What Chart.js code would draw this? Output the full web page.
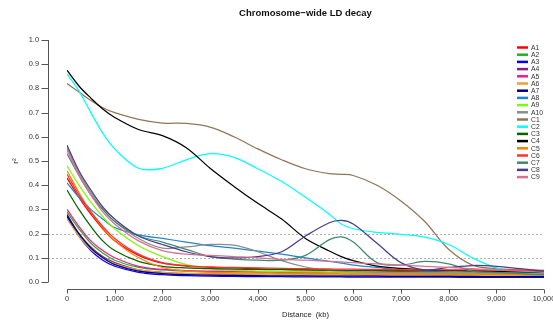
<!DOCTYPE html>
<html>
<head>
<meta charset="utf-8">
<script src="https://cdn.jsdelivr.net/npm/chart.js@4"></script>
<style>
  html, body { margin: 0; padding: 0; background: #fff; }
</style>
</head>
<body>
<canvas id="ldDecay" width="553" height="327"></canvas>
<script>
// distance in kb, shared by every chromosome
var distances = [0, 250, 500, 750, 1000, 1500, 2000, 2500, 3000, 3500, 4000, 4500, 5000, 5500, 5750, 6000, 6500, 7000, 7500, 8000, 8500, 9000, 9500, 10000];

var chromNames = ['A1', 'A2', 'A3', 'A4', 'A5', 'A6', 'A7', 'A8', 'A9', 'A10', 'C1', 'C2', 'C3', 'C4', 'C5', 'C6', 'C7', 'C8', 'C9'];
var chromColors = ['#ff0000', '#1eb41e', '#0000ff', '#8b1a8b', '#ff1493', '#e6a532', '#000080', '#1c86d0', '#7cfc00', '#8c8c8c',
  '#917559', '#00ffff', '#006400', '#000000', '#ff7f00', '#ff3030', '#3d8b6e', '#483d8b', '#db7093'];

// r^2 values
var A1 = [0.43, 0.35, 0.28, 0.22, 0.17, 0.11, 0.078, 0.066, 0.06, 0.058, 0.055, 0.052, 0.05, 0.048, 0.047, 0.046, 0.045, 0.043, 0.042, 0.04, 0.038, 0.037, 0.036, 0.035];
var A2 = [0.29, 0.22, 0.16, 0.12, 0.09, 0.06, 0.05, 0.045, 0.043, 0.042, 0.041, 0.04, 0.04, 0.039, 0.039, 0.038, 0.038, 0.037, 0.036, 0.036, 0.035, 0.035, 0.034, 0.034];
var A3 = [0.27, 0.19, 0.13, 0.09, 0.065, 0.04, 0.03, 0.026, 0.024, 0.023, 0.022, 0.022, 0.021, 0.021, 0.021, 0.02, 0.02, 0.02, 0.02, 0.02, 0.019, 0.019, 0.019, 0.019];
var A4 = [0.28, 0.2, 0.145, 0.105, 0.08, 0.05, 0.04, 0.035, 0.033, 0.032, 0.031, 0.03, 0.03, 0.029, 0.029, 0.029, 0.028, 0.028, 0.028, 0.027, 0.027, 0.027, 0.026, 0.026];
var A5 = [0.3, 0.23, 0.17, 0.13, 0.1, 0.065, 0.052, 0.047, 0.045, 0.044, 0.043, 0.042, 0.041, 0.04, 0.04, 0.04, 0.039, 0.039, 0.038, 0.038, 0.037, 0.037, 0.036, 0.036];
var A6 = [0.26, 0.19, 0.135, 0.1, 0.075, 0.05, 0.04, 0.036, 0.034, 0.033, 0.032, 0.031, 0.03, 0.03, 0.03, 0.029, 0.029, 0.028, 0.028, 0.028, 0.027, 0.027, 0.027, 0.026];
var A7 = [0.275, 0.2, 0.14, 0.1, 0.072, 0.045, 0.035, 0.03, 0.028, 0.027, 0.026, 0.025, 0.025, 0.024, 0.024, 0.024, 0.024, 0.023, 0.023, 0.023, 0.023, 0.022, 0.022, 0.022];
var A8 = [0.41, 0.35, 0.3, 0.26, 0.225, 0.195, 0.18, 0.165, 0.15, 0.14, 0.128, 0.115, 0.1, 0.085, 0.078, 0.07, 0.06, 0.05, 0.045, 0.04, 0.036, 0.033, 0.031, 0.03];
var A9 = [0.48, 0.4, 0.33, 0.27, 0.22, 0.15, 0.105, 0.072, 0.055, 0.048, 0.045, 0.043, 0.042, 0.041, 0.041, 0.04, 0.04, 0.039, 0.038, 0.038, 0.037, 0.037, 0.036, 0.036];
var A10 = [0.555, 0.45, 0.37, 0.3, 0.25, 0.18, 0.14, 0.145, 0.155, 0.152, 0.125, 0.088, 0.062, 0.048, 0.045, 0.042, 0.04, 0.04, 0.039, 0.038, 0.037, 0.036, 0.035, 0.035];
var C1 = [0.82, 0.785, 0.75, 0.72, 0.7, 0.672, 0.657, 0.655, 0.64, 0.6, 0.55, 0.505, 0.468, 0.448, 0.445, 0.44, 0.4, 0.335, 0.25, 0.135, 0.07, 0.055, 0.05, 0.045];
var C2 = [0.86, 0.79, 0.7, 0.615, 0.55, 0.47, 0.47, 0.505, 0.53, 0.515, 0.468, 0.415, 0.35, 0.28, 0.24, 0.22, 0.205, 0.197, 0.185, 0.155, 0.1, 0.058, 0.04, 0.03];
var C3 = [0.38, 0.3, 0.23, 0.17, 0.13, 0.085, 0.065, 0.058, 0.055, 0.053, 0.052, 0.051, 0.05, 0.049, 0.049, 0.048, 0.048, 0.047, 0.047, 0.046, 0.046, 0.045, 0.045, 0.045];
var C4 = [0.875, 0.81, 0.76, 0.715, 0.68, 0.63, 0.605, 0.555, 0.47, 0.395, 0.325, 0.26, 0.18, 0.128, 0.105, 0.088, 0.066, 0.056, 0.05, 0.048, 0.046, 0.044, 0.042, 0.04];
var C5 = [0.46, 0.37, 0.29, 0.225, 0.17, 0.1, 0.06, 0.045, 0.04, 0.038, 0.037, 0.036, 0.035, 0.035, 0.034, 0.034, 0.033, 0.033, 0.032, 0.032, 0.031, 0.031, 0.03, 0.03];
var C6 = [0.445, 0.36, 0.29, 0.23, 0.18, 0.115, 0.08, 0.068, 0.062, 0.06, 0.058, 0.056, 0.055, 0.054, 0.053, 0.053, 0.052, 0.051, 0.05, 0.05, 0.05, 0.049, 0.049, 0.048];
var C7 = [0.53, 0.44, 0.36, 0.3, 0.25, 0.19, 0.165, 0.135, 0.105, 0.095, 0.09, 0.09, 0.11, 0.175, 0.186, 0.165, 0.08, 0.07, 0.085, 0.075, 0.045, 0.04, 0.035, 0.03];
var C8 = [0.565, 0.46, 0.38, 0.31, 0.26, 0.19, 0.155, 0.125, 0.105, 0.1, 0.105, 0.125, 0.19, 0.245, 0.255, 0.24, 0.16, 0.08, 0.05, 0.06, 0.068, 0.065, 0.055, 0.045];
var C9 = [0.545, 0.44, 0.36, 0.29, 0.24, 0.17, 0.13, 0.115, 0.11, 0.105, 0.1, 0.093, 0.09, 0.085, 0.083, 0.08, 0.075, 0.07, 0.065, 0.06, 0.055, 0.05, 0.045, 0.04];

var seriesValues = [A1, A2, A3, A4, A5, A6, A7, A8, A9, A10, C1, C2, C3, C4, C5, C6, C7, C8, C9];
var xTicks = [0, 1000, 2000, 3000, 4000, 5000, 6000, 7000, 8000, 9000, 10000];
var yTicks = [0, 0.1, 0.2, 0.3, 0.4, 0.5, 0.6, 0.7, 0.8, 0.9, 1.0];
var refLines = [0.1, 0.2];

var fontFam = "'Liberation Sans', Arial, sans-serif";

var datasets = seriesValues.map(function (vals, i) {
  return {
    label: chromNames[i],
    data: vals.map(function (v, j) { return { x: distances[j], y: v }; }),
    borderColor: chromColors[i],
    borderWidth: 1.25,
    pointRadius: 0,
    fill: false,
    tension: 0.35,
    order: seriesValues.length - i   // later chromosomes drawn on top, like R
  };
});

// dotted reference lines under the curves
var refLinePlugin = {
  id: 'refLines',
  beforeDatasetsDraw: function (chart) {
    var ctx = chart.ctx, ys = chart.scales.y, area = chart.chartArea;
    ctx.save();
    ctx.strokeStyle = '#b4b4b4';
    ctx.lineWidth = 1;
    ctx.setLineDash([2, 2]);
    refLines.forEach(function (v) {
      var py = Math.round(ys.getPixelForValue(v)) + 0.5;
      ctx.beginPath();
      ctx.moveTo(44, py);
      ctx.lineTo(area.right, py);
      ctx.stroke();
    });
    ctx.restore();
  }
};

// R style detached axes + legend
var baseAxesPlugin = {
  id: 'baseAxes',
  afterDraw: function (chart) {
    var ctx = chart.ctx, xs = chart.scales.x, ys = chart.scales.y;
    ctx.save();
    ctx.strokeStyle = '#555';
    ctx.lineWidth = 1;
    // y axis
    var ax = 48.5;
    ctx.beginPath();
    ctx.moveTo(ax, ys.getPixelForValue(0));
    ctx.lineTo(ax, ys.getPixelForValue(1));
    yTicks.forEach(function (t) {
      var py = Math.round(ys.getPixelForValue(t)) + 0.5;
      ctx.moveTo(ax, py);
      ctx.lineTo(ax - 7, py);
    });
    ctx.stroke();
    // x axis
    var ay = 289.5;
    ctx.beginPath();
    ctx.moveTo(xs.getPixelForValue(0), ay);
    ctx.lineTo(xs.getPixelForValue(10000), ay);
    xTicks.forEach(function (t) {
      var px = Math.round(xs.getPixelForValue(t)) + 0.5;
      ctx.moveTo(px, ay);
      ctx.lineTo(px, ay + 4);
    });
    ctx.stroke();

    // legend
    ctx.font = '6.8px ' + fontFam;
    ctx.textBaseline = 'middle';
    ctx.textAlign = 'left';
    ctx.lineWidth = 2.5;
    ctx.setLineDash([]);
    chromNames.forEach(function (name, i) {
      var ly = 47.5 + i * 7.2;
      ctx.strokeStyle = chromColors[i];
      ctx.beginPath();
      ctx.moveTo(517, ly);
      ctx.lineTo(528, ly);
      ctx.stroke();
      ctx.fillStyle = '#333';
      ctx.fillText(name, 531, ly + 0.5);
    });
    ctx.restore();
  }
};

var ldChart = new Chart(document.getElementById('ldDecay').getContext('2d'), {
  type: 'line',
  data: { datasets: datasets },
  options: {
    responsive: false,
    animation: false,
    devicePixelRatio: 1,
    layout: { padding: { left: 0, right: 9, top: 0, bottom: 0 } },
    plugins: {
      legend: { display: false },
      tooltip: { enabled: false },
      title: {
        display: true,
        text: 'Chromosome\u2212wide LD decay',
        fullSize: false,
        color: '#111',
        font: { family: fontFam, size: 9.5, weight: 'bold' },
        padding: { top: 8, bottom: 20.6 }
      }
    },
    scales: {
      x: {
        type: 'linear',
        min: 0,
        max: 10000,
        grid: { display: false, drawTicks: false },
        border: { display: false },
        ticks: {
          stepSize: 1000,
          autoSkip: false,
          maxRotation: 0,
          padding: 13,
          color: '#333',
          font: { family: fontFam, size: 7.4 }
        },
        title: {
          display: true,
          text: 'Distance  (kb)',
          color: '#222',
          font: { family: fontFam, size: 7.6 },
          padding: { top: 0, bottom: 7.5 }
        },
        afterFit: function (s) { s.height = 45; s.paddingLeft = 0; s.paddingRight = 0; }
      },
      y: {
        min: 0,
        max: 1,
        grid: { display: false, drawTicks: false },
        border: { display: false },
        ticks: {
          stepSize: 0.1,
          padding: 28,
          color: '#333',
          font: { family: fontFam, size: 7.4 },
          callback: function (v) { return v.toFixed(1); }
        },
        title: {
          display: true,
          text: 'r\u00b2',
          color: '#222',
          font: { family: fontFam, size: 8 },
          padding: { top: 11, bottom: 0 }
        },
        afterFit: function (s) { s.width = 67; }
      }
    }
  },
  plugins: [refLinePlugin, baseAxesPlugin]
});
</script>
</body>
</html>
